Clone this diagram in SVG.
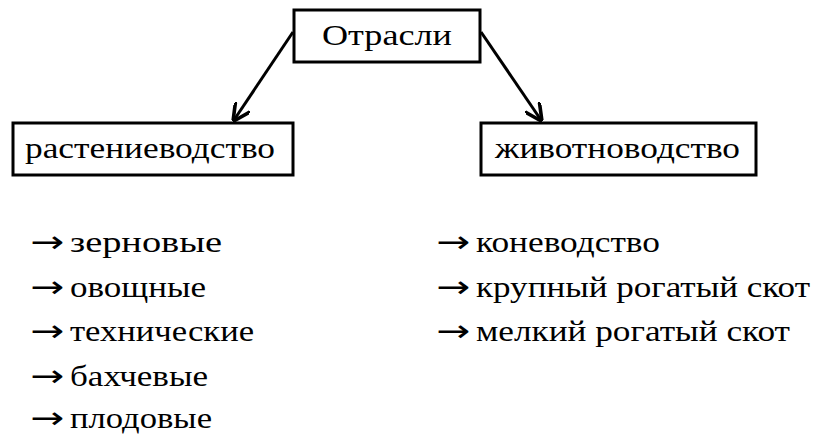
<svg xmlns="http://www.w3.org/2000/svg" width="816" height="444" viewBox="0 0 816 444">
<style>
.b{fill:#fff;stroke:#000;stroke-width:3}
text{font-family:"Liberation Serif","DejaVu Serif",serif;font-size:29px;fill:#000}
.ar{font-family:"DejaVu Sans",sans-serif;font-size:30px}
.c{stroke:#000;stroke-width:3;fill:none}
</style>
<defs><marker id="a" viewBox="0 0 10 10" refX="9" refY="5" markerWidth="6" markerHeight="6" orient="auto"><path d="M0,0 L10,5 L0,10" fill="none" stroke="#000" stroke-width="2"/></marker></defs>
<rect width="816" height="444" fill="#fff"/>
<g id="connectors">
<line class="c" x1="293" y1="32" x2="234" y2="120" marker-end="url(#a)"/>
<line class="c" x1="481" y1="32" x2="541" y2="120" marker-end="url(#a)"/>
</g>
<g id="n1"><rect class="b" x="294" y="10" width="186" height="52"/><text x="387" y="45" text-anchor="middle" textLength="130" lengthAdjust="spacingAndGlyphs">Отрасли</text></g>
<g id="n2"><rect class="b" x="13" y="123" width="280" height="52"/><text x="25" y="158" textLength="250" lengthAdjust="spacingAndGlyphs">растениеводство</text></g>
<g id="n3"><rect class="b" x="481" y="123" width="275" height="52"/><text x="495" y="158" textLength="245" lengthAdjust="spacingAndGlyphs">животноводство</text></g>
<g id="left">
<text class="ar" x="30" y="252" textLength="34" lengthAdjust="spacingAndGlyphs">→</text><text x="70" y="252" textLength="152" lengthAdjust="spacingAndGlyphs">зерновые</text>
<text class="ar" x="30" y="297" textLength="34" lengthAdjust="spacingAndGlyphs">→</text><text x="70" y="297" textLength="136" lengthAdjust="spacingAndGlyphs">овощные</text>
<text class="ar" x="30" y="341" textLength="34" lengthAdjust="spacingAndGlyphs">→</text><text x="70" y="341" textLength="184" lengthAdjust="spacingAndGlyphs">технические</text>
<text class="ar" x="30" y="386" textLength="34" lengthAdjust="spacingAndGlyphs">→</text><text x="70" y="386" textLength="138" lengthAdjust="spacingAndGlyphs">бахчевые</text>
<text class="ar" x="30" y="428" textLength="34" lengthAdjust="spacingAndGlyphs">→</text><text x="70" y="428" textLength="142" lengthAdjust="spacingAndGlyphs">плодовые</text>
</g>
<g id="right">
<text class="ar" x="436" y="252" textLength="34" lengthAdjust="spacingAndGlyphs">→</text><text x="476" y="252" textLength="184" lengthAdjust="spacingAndGlyphs">коневодство</text>
<text class="ar" x="436" y="297" textLength="34" lengthAdjust="spacingAndGlyphs">→</text><text x="476" y="297" textLength="334" lengthAdjust="spacingAndGlyphs">крупный рогатый скот</text>
<text class="ar" x="436" y="341" textLength="34" lengthAdjust="spacingAndGlyphs">→</text><text x="476" y="341" textLength="314" lengthAdjust="spacingAndGlyphs">мелкий рогатый скот</text>
</g>
</svg>
